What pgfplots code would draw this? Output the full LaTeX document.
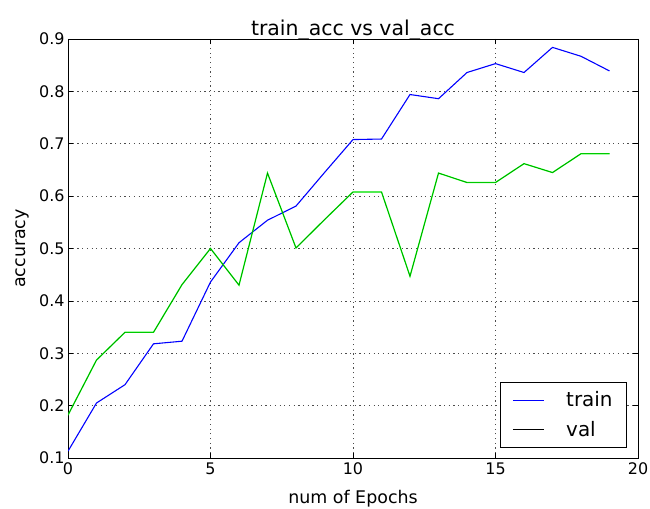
\documentclass[border=0pt]{standalone}
\usepackage{fontspec}
\setmainfont{DejaVu Sans}
\usepackage{pgfplots}
\pgfplotsset{compat=1.18}
\definecolor{mplblue}{rgb}{0,0,1}
\definecolor{mplgreen}{rgb}{0,1,0}
\begin{document}
\begin{tikzpicture}
\useasboundingbox (0,0) rectangle (650bp,509bp);
\begin{axis}[
  at={(68bp,51bp)}, anchor=south west,
  scale only axis, width=570bp, height=419bp,
  xmin=0, xmax=20, ymin=0.1, ymax=0.9,
  xtick={0,5,10,15,20},
  ytick={0.1,0.2,0.3,0.4,0.5,0.6,0.7,0.8,0.9},
  yticklabel style={/pgf/number format/.cd, fixed, fixed zerofill, precision=1},
  /pgf/number format/assume math mode=true,
  tick align=inside,
  major tick length=5bp,
  tick style={black, line width=0.6pt},
  axis line style={black, line width=0.9pt},
  grid=major,
  major grid style={black!70, dash pattern=on 1.2bp off 3.5bp, line width=0.7pt},
  ticklabel style={font=\fontsize{16}{18}\selectfont},
  xticklabel style={yshift=-1bp},
  title={train\_acc vs val\_acc},
  title style={font=\fontsize{20.5}{22}\selectfont, yshift=-11bp},
  xlabel={num of Epochs},
  ylabel={accuracy},
  label style={font=\fontsize{17.5}{19}\selectfont},
  xlabel style={yshift=-9bp},
  ylabel style={yshift=3bp},
  legend style={at={(1,0)}, anchor=south east, xshift=-11bp, yshift=10bp,
    draw=black, line width=0.8pt, font=\fontsize{20}{22}\selectfont,
    inner xsep=12bp, inner ysep=7.5bp, row sep=9bp, cells={anchor=west},
    /tikz/every odd column/.append style={column sep=20bp}},
  legend image code/.code={\draw[#1, line width=0.8pt] (0bp,0bp) -- (31bp,0bp);},
]
\addplot[mplblue, line width=1.1pt] coordinates {
(0,0.113) (1,0.205) (2,0.240) (3,0.318) (4,0.323) (5,0.436) (6,0.511) (7,0.554) (8,0.581) (9,0.645)
(10,0.708) (11,0.709) (12,0.794) (13,0.786) (14,0.836) (15,0.853) (16,0.836) (17,0.884) (18,0.867) (19,0.839)
};
\addlegendentry{train}
\addplot[mplgreen, line width=1.3pt, forget plot] coordinates {
(0,0.182) (1,0.287) (2,0.340) (3,0.340) (4,0.431) (5,0.500) (6,0.430) (7,0.644) (8,0.501) (9,0.555)
(10,0.608) (11,0.608) (12,0.447) (13,0.644) (14,0.626) (15,0.626) (16,0.662) (17,0.645) (18,0.681) (19,0.681)
};
\addplot[black, line width=0.35pt, opacity=0.6, legend image post style={opacity=1, line width=0.8pt}] coordinates {
(0,0.182) (1,0.287) (2,0.340) (3,0.340) (4,0.431) (5,0.500) (6,0.430) (7,0.644) (8,0.501) (9,0.555)
(10,0.608) (11,0.608) (12,0.447) (13,0.644) (14,0.626) (15,0.626) (16,0.662) (17,0.645) (18,0.681) (19,0.681)
};
\addlegendentry{val}
\end{axis}
\end{tikzpicture}
\end{document}
